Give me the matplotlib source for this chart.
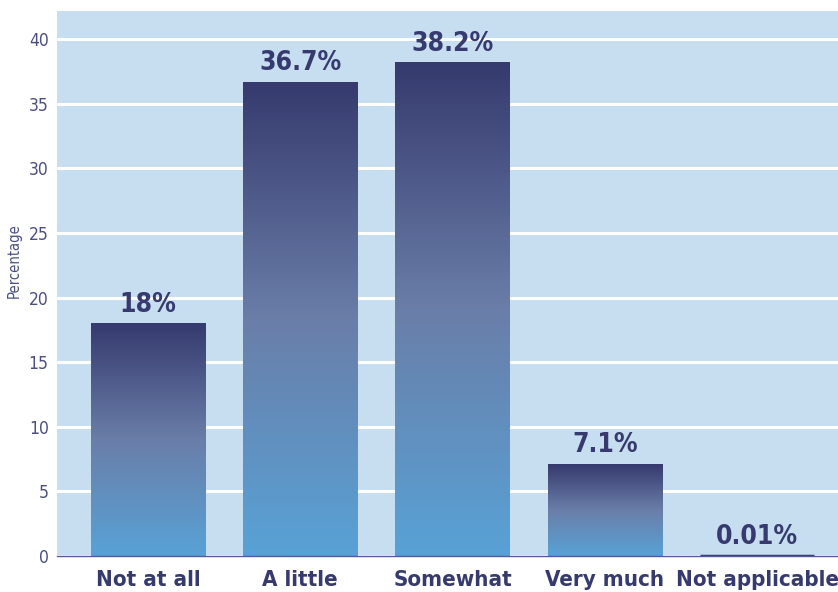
import numpy as np
import matplotlib
matplotlib.use('Agg')
import matplotlib.pyplot as plt
from matplotlib.colors import LinearSegmentedColormap

# data
categories = ['Not at all', 'A little', 'Somewhat', 'Very much', 'Not applicable']
values = [18, 36.7, 38.2, 7.1, 0.01]
labels = ['18%', '36.7%', '38.2%', '7.1%', '0.01%']

plt.rcParams['font.family'] = ['DejaVu Sans']
plt.rcParams['font.stretch'] = 'condensed'

navy = '#363a6e'
txt = '#4a4f82'
bg = '#c7ddf0'

grad = LinearSegmentedColormap.from_list('g', ['#58a2d6', '#6a7ea8', navy])

fig = plt.figure(figsize=(8.38, 5.92), dpi=100)
ax = fig.add_axes([0.068, 0.0608, 0.932, 0.92])
ax.set_facecolor(bg)

x = np.arange(len(categories))
ax.set_xlim(-0.597, 4.53)
ax.set_ylim(0, 42.15)

ax.set_yticks(range(0, 41, 5))
ax.yaxis.grid(True, color='white', linewidth=2.2)
ax.set_axisbelow(True)

bars = ax.bar(x, values, width=0.75, color='none', zorder=2)
g = np.linspace(0, 1, 256).reshape(-1, 1)
for b, v in zip(bars, values):
    x0 = b.get_x()
    w = b.get_width()
    im = ax.imshow(g, cmap=grad, origin='lower', aspect='auto',
                   extent=[x0, x0 + w, 0, v], zorder=2)
    im.set_clip_path(b)
    if v < 1:
        # tiny bar, show it as a thin dark strip
        b.set_edgecolor(navy)
        b.set_linewidth(2.5)
        b.set_zorder(3)

for xi, v, lab in zip(x, values, labels):
    ax.text(xi, v + 0.45, lab, ha='center', va='bottom', fontsize=19,
            fontweight='bold', color=navy)

for s in ['top', 'right', 'left']:
    ax.spines[s].set_visible(False)
ax.spines['bottom'].set_color('#55589a')
ax.spines['bottom'].set_linewidth(1)
ax.spines['bottom'].set_zorder(4)

ax.set_xticks(x)
ax.set_xticklabels(categories, fontsize=16, fontweight='bold', color=navy)
ax.tick_params(axis='x', length=0, pad=10)
ax.tick_params(axis='y', length=0, labelsize=12.5, labelcolor=txt, pad=6)

ax.set_ylabel('Percentage', fontsize=10.5, color=txt)
ax.yaxis.set_label_coords(-0.045, 0.543)

fig.savefig('out.png', dpi=100, facecolor='white')
